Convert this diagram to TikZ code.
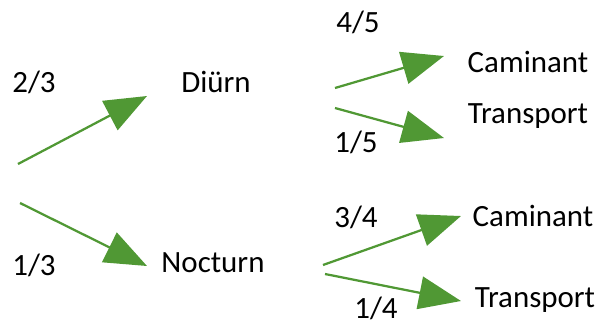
\documentclass[tikz,border=0pt]{standalone}
\usepackage{fontspec}
\setmainfont{Carlito}
\usepackage{tikz}
\usetikzlibrary{arrows.meta, positioning, calc}
\definecolor{branchgreen}{RGB}{80,152,52}

\begin{document}
\begin{tikzpicture}[ x=0.025cm, y=-0.025cm, branch/.style={line width=1.6pt,
      branchgreen, -{Triangle[length=1.05cm, width=0.82cm]}},
      label/.style={font=\fontsize{22pt}{26pt}\selectfont, text=black,
      inner sep=0pt} ]

    \useasboundingbox (0,0) rectangle (599,324);

    % Outcome nodes
    \node[label] (dia) at (216,82) {Diürn}; \node[label] (nit) at (213,263)
    {Nocturn}; \node[label] (dcam) at (528,62) {Caminant}; \node[label]
    (dtra) at (528,116) {Transport}; \node[label] (ncam) at (533,216)
    {Caminant}; \node[label] (ntra) at (535,300) {Transport};

    % Branch ends
    \coordinate (root1) at (18,164); \coordinate (root2) at (20,203);
    \coordinate (tipdia) at (147,96); \coordinate (tipnit) at (147,266);
    \coordinate (dfrom1) at (335,88); \coordinate (dfrom2) at (335,108);
    \coordinate (tipdcam) at (444,56); \coordinate (tipdtra) at (444,138);
    \coordinate (nfrom1) at (323,265); \coordinate (nfrom2) at (325,274);
    \coordinate (tipncam) at (461,216); \coordinate (tipntra) at (461,301);

    % First level branches
    \draw[branch] (root1) -- (tipdia); \draw[branch] (root2) -- (tipnit);

    % Second level branches
    \draw[branch] (dfrom1) -- (tipdcam); \draw[branch] (dfrom2) -- (tipdtra);
    \draw[branch] (nfrom1) -- (tipncam); \draw[branch] (nfrom2) -- (tipntra);

    % Probabilities
    \node[label] (p1) at (34,82) {2/3}; \node[label] (p2) at (34,265) {1/3};
    \node[label] (p3) at (358,22) {4/5}; \node[label] (p4) at (356,142)
    {1/5}; \node[label] (p5) at (356,217) {3/4}; \node[label] (p6) at
    (376,308) {1/4};

\end{tikzpicture}
\end{document}
